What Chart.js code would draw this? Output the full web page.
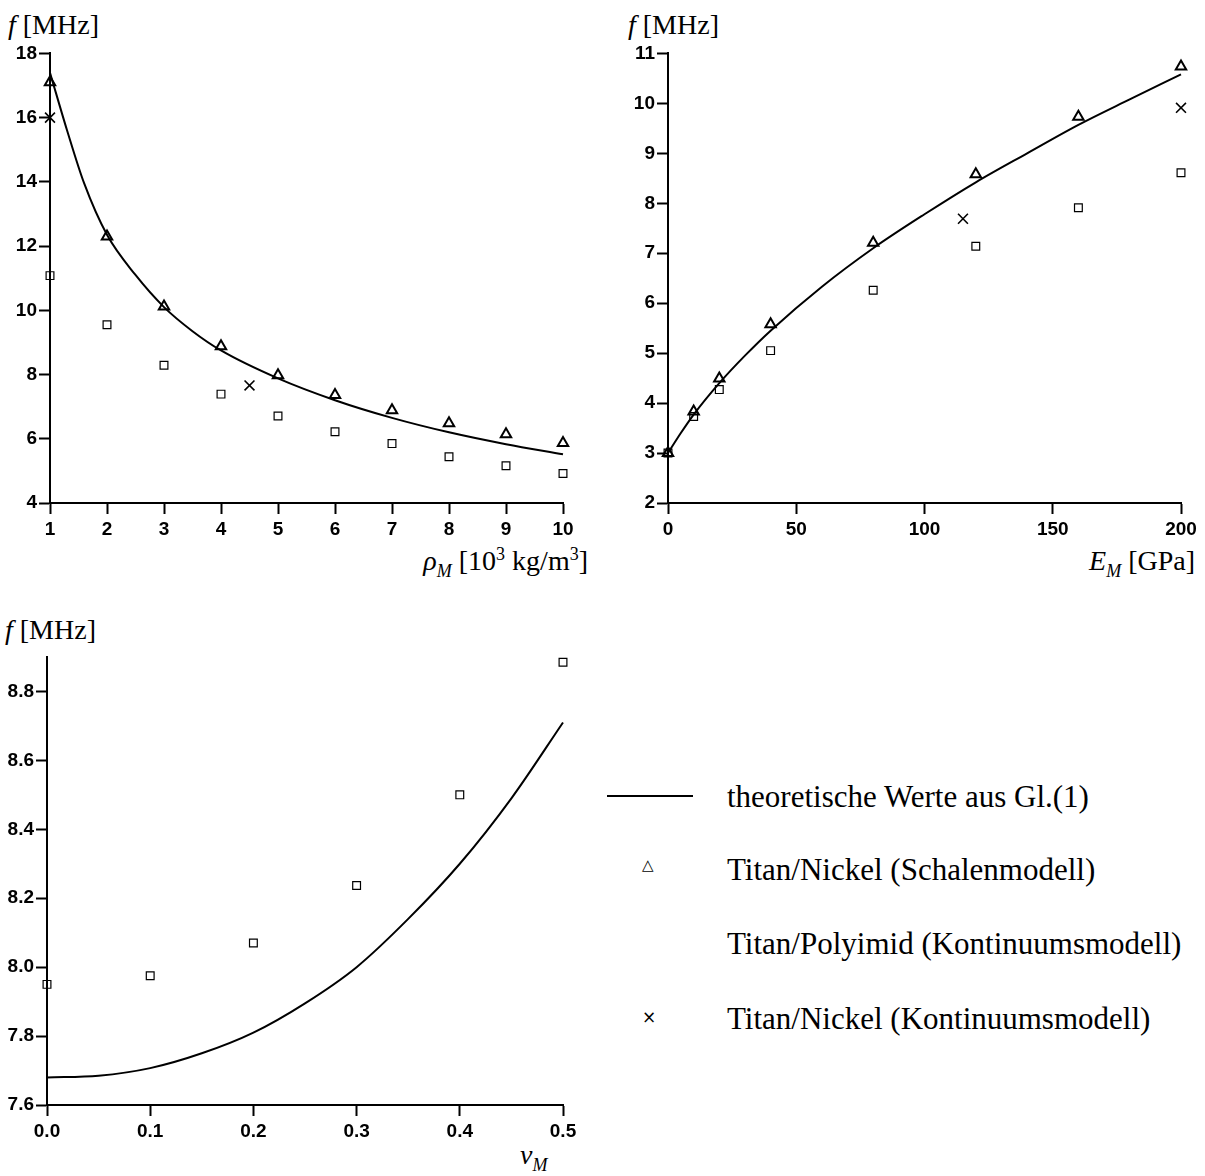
<!DOCTYPE html>
<html>
<head>
<meta charset="utf-8">
<script src="https://cdn.jsdelivr.net/npm/chart.js@4.4.1/dist/chart.umd.min.js"></script>
<style>
  body { margin: 0; background: #fff; width: 1205px; height: 1176px; position: relative; overflow: hidden; }
  canvas { position: absolute; }
  .t { position: absolute; font-family: "Liberation Serif", serif; font-size: 28px; color: #000; white-space: nowrap; line-height: 1; }
  .lg { font-size: 31px; }
  .t i { font-style: italic; }
  .t sub, .t sup { font-size: 18px; line-height: 0; }
</style>
</head>
<body>

<div class="t" style="left:8px; top:11px;"><i>f</i> [MHz]</div>
<div class="t" style="left:628px; top:11px;"><i>f</i> [MHz]</div>
<div class="t" style="left:5px; top:616px;"><i>f</i> [MHz]</div>

<div class="t" style="right:617px; top:547px;"><i>ρ<sub>M</sub></i> [10<sup>3</sup> kg/m<sup>3</sup>]</div>
<div class="t" style="right:10px; top:547px;"><i>E<sub>M</sub></i> [GPa]</div>
<div class="t" style="left:520px; top:1141px;"><i>ν<sub>M</sub></i></div>

<canvas id="c1" width="600" height="520" style="left:0; top:40px;"></canvas>
<canvas id="c2" width="605" height="520" style="left:600px; top:40px;"></canvas>
<canvas id="c3" width="600" height="520" style="left:0; top:640px;"></canvas>

<div style="position:absolute; left:607px; top:795px; width:86px; height:2px; background:#000;"></div>
<div class="t lg" style="left:727px; top:781px;">theoretische Werte aus Gl.(1)</div>
<div class="t" style="left:642px; top:858px; font-family:'DejaVu Sans'; font-size:15px;">△</div>
<div class="t lg" style="left:727px; top:854px;">Titan/Nickel (Schalenmodell)</div>
<div class="t lg" style="left:727px; top:928px;">Titan/Polyimid (Kontinuumsmodell)</div>
<div class="t" style="left:642px; top:1009px; font-family:'DejaVu Sans'; font-size:17px;">×</div>
<div class="t lg" style="left:727px; top:1003px;">Titan/Nickel (Kontinuumsmodell)</div>

<script>
// --- plot 1: f over rho_M ---
var rhoX = [1, 2, 3, 4, 5, 6, 7, 8, 9, 10];
var rhoTri = [17.1, 12.3, 10.12, 8.88, 7.98, 7.36, 6.89, 6.48, 6.14, 5.87];
var rhoSq = [11.08, 9.55, 8.29, 7.39, 6.71, 6.22, 5.85, 5.44, 5.16, 4.92];
var rhoCrossX = [1, 4.5];
var rhoCross = [16.0, 7.66];
var rhoCurveX = [1, 1.3, 1.6, 2, 2.5, 3, 3.5, 4, 5, 6, 7, 8, 9, 10];
var rhoCurve = [17.4, 15.6, 13.95, 12.35, 11.1, 10.1, 9.35, 8.75, 7.88, 7.2, 6.65, 6.2, 5.83, 5.52];
var rhoTicksX = [1, 2, 3, 4, 5, 6, 7, 8, 9, 10];
var rhoTicksY = [4, 6, 8, 10, 12, 14, 16, 18];

// --- plot 2: f over E_M ---
var eX = [0, 10, 20, 40, 80, 120, 160, 200];
var eTri = [3.0, 3.83, 4.49, 5.58, 7.21, 8.58, 9.73, 10.74];
var eSq = [3.0, 3.73, 4.27, 5.05, 6.26, 7.14, 7.91, 8.61];
var eCrossX = [115, 200];
var eCross = [7.69, 9.91];
var eCurveX = [0, 5, 10, 20, 30, 40, 60, 80, 100, 120, 140, 160, 180, 200];
var eCurve = [3.0, 3.4, 3.77, 4.4, 4.95, 5.45, 6.33, 7.1, 7.78, 8.42, 9.0, 9.57, 10.08, 10.58];
var eTicksX = [0, 50, 100, 150, 200];
var eTicksY = [2, 3, 4, 5, 6, 7, 8, 9, 10, 11];

// --- plot 3: f over nu_M ---
var nuX = [0.0, 0.1, 0.2, 0.3, 0.4, 0.5];
var nuSq = [7.95, 7.975, 8.07, 8.237, 8.5, 8.885];
var nuCurveX = [0, 0.05, 0.1, 0.15, 0.2, 0.25, 0.3, 0.35, 0.4, 0.45, 0.5];
var nuCurve = [7.68, 7.685, 7.707, 7.75, 7.81, 7.895, 8.0, 8.14, 8.3, 8.49, 8.71];
var nuTicksX = [0, 0.1, 0.2, 0.3, 0.4, 0.5];
var nuTicksY = [7.6, 7.8, 8.0, 8.2, 8.4, 8.6, 8.8];

function pts(xs, ys) {
    return xs.map(function (x, i) { return {x: x, y: ys[i]}; });
}

var tickFont = {family: 'Liberation Sans', weight: 'bold', size: 19};

function axis(min, max, ticks, fmt, fitSize, isX) {
    return {
        type: 'linear',
        min: min,
        max: max,
        afterBuildTicks: function (scale) {
            scale.ticks = ticks.map(function (v) { return {value: v}; });
        },
        afterFit: function (scale) {
            if (isX) scale.height = fitSize; else scale.width = fitSize;
        },
        border: {display: true, color: '#000', width: 2},
        grid: {drawOnChartArea: false, drawTicks: true, tickLength: 11, color: '#000', tickWidth: 2},
        ticks: {
            color: '#000',
            font: tickFont,
            padding: isX ? 4 : 2,
            maxRotation: 0,
            autoSkip: false,
            callback: function (v) { return fmt(v); }
        }
    };
}

function makeChart(id, sets, xs, ys, pad) {
    new Chart(document.getElementById(id), {
        type: 'scatter',
        data: {datasets: sets},
        options: {
            responsive: false,
            animation: false,
            events: [],
            layout: {padding: pad},
            plugins: {legend: {display: false}, tooltip: {enabled: false}},
            scales: {x: xs, y: ys}
        }
    });
}

function curveSet(data) {
    return {data: data, showLine: true, borderColor: '#000', borderWidth: 2, pointRadius: 0,
            cubicInterpolationMode: 'monotone', clip: false};
}
function markSet(data, style, r, w) {
    return {data: data, showLine: false, pointStyle: style, pointRadius: r, borderWidth: w,
            borderColor: '#000', backgroundColor: 'rgba(255,255,255,0)', clip: false};
}

var plain = function (v) { return String(v); };
var oneDec = function (v) { return v.toFixed(1); };

makeChart('c1', [
    curveSet(pts(rhoCurveX, rhoCurve)),
    markSet(pts(rhoX, rhoTri), 'triangle', 6, 2),
    markSet(pts(rhoX, rhoSq), 'rect', 5.5, 1.2),
    markSet(pts(rhoCrossX, rhoCross), 'crossRot', 7, 1.6)
], axis(1, 10, rhoTicksX, plain, 45, true), axis(4, 18, rhoTicksY, plain, 50, false),
   {left: 0, right: 37, top: 13, bottom: 12});

makeChart('c2', [
    curveSet(pts(eCurveX, eCurve)),
    markSet(pts(eX, eTri), 'triangle', 6, 2),
    markSet(pts(eX, eSq), 'rect', 5.5, 1.2),
    markSet(pts(eCrossX, eCross), 'crossRot', 7, 1.6)
], axis(0, 200, eTicksX, plain, 45, true), axis(2, 11, eTicksY, plain, 68, false),
   {left: 0, right: 24, top: 13, bottom: 12});

makeChart('c3', [
    curveSet(pts(nuCurveX, nuCurve)),
    markSet(pts(nuX, nuSq), 'rect', 5.5, 1.2)
], axis(0, 0.5, nuTicksX, oneDec, 45, true), axis(7.6, 8.9, nuTicksY, oneDec, 47, false),
   {left: 0, right: 37, top: 17, bottom: 10});
</script>
</body>
</html>
